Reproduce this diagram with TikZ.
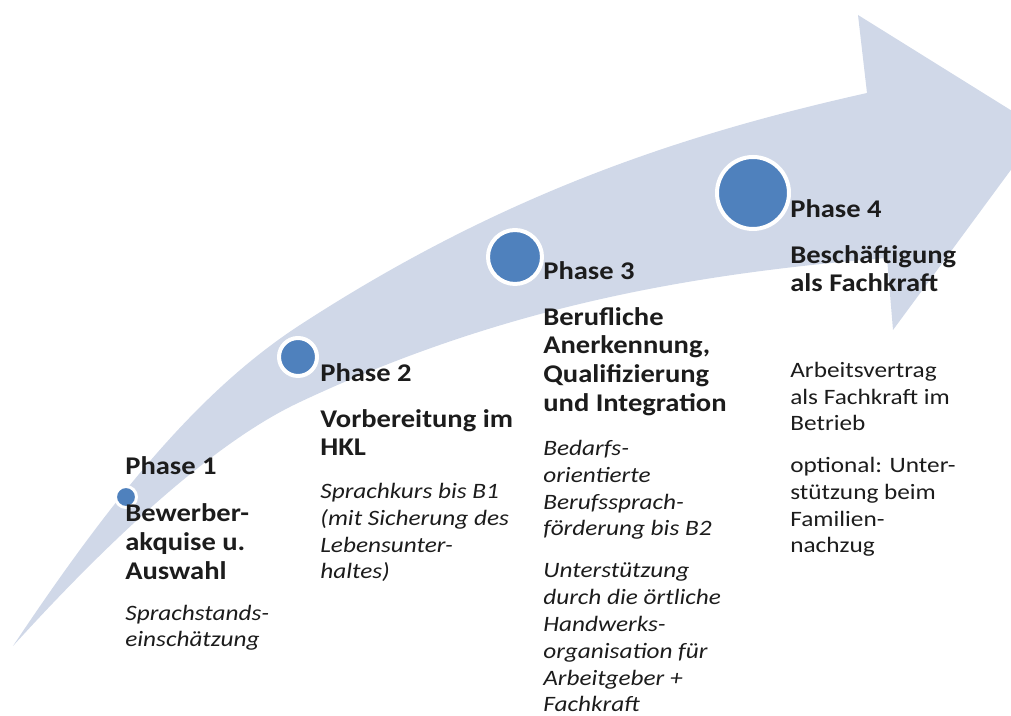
\documentclass[tikz,border=0pt]{standalone}
\usepackage{fontspec}
\setmainfont{Carlito}[FakeStretch=1.12]
\newfontfamily\notefamily{Carlito}[FakeStretch=1.15]
\usepackage{tikz}
\usetikzlibrary{positioning}
\definecolor{bandblue}{HTML}{D0D8E8}
\definecolor{dotblue}{HTML}{4F81BD}
\definecolor{inktext}{HTML}{1C1C1C}
\tikzset{
	phasedot/.style={circle, draw=white, fill=dotblue, inner sep=0pt}
}
\tikzset{
	phasehead/.style={anchor=base west, inner sep=0pt, align=left, text=inktext,
		font=\bfseries\fontsize{14.5}{16.4}\selectfont}
}
\tikzset{
	phasenote/.style={anchor=base west, inner sep=0pt, align=left, text=inktext,
		font=\notefamily\itshape\fontsize{12.5}{15.35}\selectfont}
}
\tikzset{
	plainnote/.style={phasenote, font=\notefamily\upshape\fontsize{12.5}{15.35}\selectfont}
}

\begin{document}
\begin{tikzpicture}
\clip (0,0) rectangle (20.22,14.32);

% curved band, arrow head on the right
\fill[bandblue] (0.26,1.40)
	.. controls (2.26,4.40) and (4.0,6.52) .. (6.0,7.82)
	.. controls (10.0,10.42) and (13.58,11.62) .. (17.34,12.46)
	-- (17.16,14.02) -- (20.82,11.74) -- (17.86,7.72) -- (17.74,9.16)
	.. controls (13.74,8.84) and (10.0,8.16) .. (6.0,6.28)
	.. controls (4.2,5.44) and (2.06,3.38) .. (0.26,1.40)
	-- cycle;

\coordinate (pA) at (2.52,4.38);
\coordinate (pB) at (5.96,7.18);
\coordinate (pC) at (10.3,9.18);
\coordinate (pD) at (15.06,10.46);

\node[phasedot, line width=0.06cm, minimum size=0.42cm] (dotA) at (pA) {};
\node[phasedot, line width=0.08cm, minimum size=0.76cm] (dotB) at (pB) {};
\node[phasedot, line width=0.08cm, minimum size=1.08cm] (dotC) at (pC) {};
\node[phasedot, line width=0.08cm, minimum size=1.44cm] (dotD) at (pD) {};

% phase 1
\node[phasehead] (headA) at (2.5,4.82) {Phase 1};
\node[phasehead] (titleA) at (2.5,2.73) {Bewerber-\\akquise u.\\Auswahl};
\node[phasenote] (noteA) at (2.5,1.38) {Sprachstands-\\einschätzung};

% phase 2
\node[phasehead] (headB) at (6.4,6.68) {Phase 2};
\node[phasehead] (titleB) at (6.4,5.20) {Vorbereitung im\\HKL};
\node[phasenote] (noteB) at (6.4,2.74) {Sprachkurs bis B1\\(mit Sicherung des\\Lebensunter-\\haltes)};

% phase 3
\node[phasehead] (headC) at (10.86,8.72) {Phase 3};
\node[phasehead] (titleC) at (10.86,6.09) {Berufliche\\Anerkennung,\\Qualifizierung\\und Integration};
\node[phasenote] (noteC) at (10.86,3.60) {Bedarfs-\\orientierte\\Berufssprach-\\förderung bis B2};
\node[phasenote] (noteCC) at (10.86,0.08) {Unterstützung\\durch die örtliche\\Handwerks-\\organisation für\\Arbeitgeber +\\Fachkraft};

% phase 4
\node[phasehead] (headD) at (15.8,9.96) {Phase 4};
\node[phasehead] (titleD) at (15.8,8.48) {Beschäftigung\\als Fachkraft};
\node[plainnote] (noteD) at (15.8,5.70) {Arbeitsvertrag\\als Fachkraft im\\Betrieb};
\node[plainnote] (noteDD) at (15.8,3.26) {optional: Unter-\\stützung beim\\Familien-\\nachzug};

\end{tikzpicture}
\end{document}
